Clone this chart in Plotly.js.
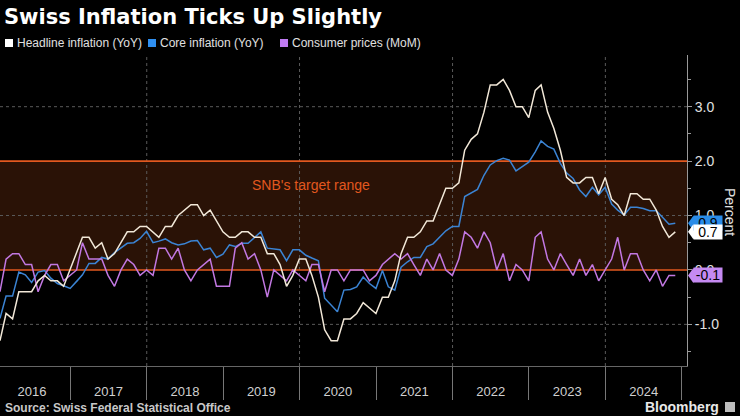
<!DOCTYPE html>
<html>
<head>
<meta charset="utf-8">
<script src="https://cdn.plot.ly/plotly-3.0.1.min.js"></script>
<style>
  html, body { margin: 0; padding: 0; background: #000; }
  #chart { width: 740px; height: 416px; }
</style>
</head>
<body>
<div id="chart"></div>
<script>
// ---- DATA (monthly, Jan 2016 .. Nov 2024) ----
const startYear = 2016;
const startMonth = 1;

const headline = [
  -1.3, -0.8, -0.9, -0.4, -0.4, -0.4, -0.2, -0.1, -0.2, -0.2, -0.3, 0.0,
  0.3, 0.6, 0.6, 0.4, 0.5, 0.2, 0.3, 0.5, 0.7, 0.7, 0.8, 0.8,
  0.7, 0.6, 0.8, 0.8, 1.0, 1.1, 1.2, 1.2, 1.0, 1.1, 0.9, 0.7,
  0.6, 0.6, 0.7, 0.7, 0.6, 0.6, 0.3, 0.3, 0.1, -0.3, -0.1, 0.2,
  0.2, -0.1, -0.5, -1.1, -1.3, -1.3, -0.9, -0.9, -0.8, -0.6, -0.7, -0.8,
  -0.5, -0.5, -0.2, 0.3, 0.6, 0.6, 0.7, 0.9, 0.9, 1.2, 1.5, 1.5,
  1.6, 2.2, 2.4, 2.5, 2.9, 3.4, 3.4, 3.5, 3.3, 3.0, 3.0, 2.8,
  3.3, 3.4, 2.9, 2.6, 2.2, 1.7, 1.6, 1.6, 1.7, 1.7, 1.4, 1.7,
  1.3, 1.2, 1.0, 1.4, 1.4, 1.3, 1.3, 1.1, 0.8, 0.6, 0.7
];

const core = [
  -0.89, -0.48, -0.48, -0.04, -0.09, -0.23, -0.04, -0.01, -0.15, -0.25, -0.29, -0.34,
  -0.21, -0.09, 0.12, 0.12, 0.23, 0.20, 0.32, 0.40, 0.49, 0.50, 0.58, 0.71,
  0.50, 0.53, 0.57, 0.50, 0.46, 0.48, 0.53, 0.54, 0.37, 0.40, 0.23, 0.29,
  0.46, 0.43, 0.49, 0.49, 0.60, 0.70, 0.40, 0.38, 0.37, 0.17, 0.37, 0.37,
  0.27, 0.22, 0.17, -0.52, -0.64, -0.77, -0.37, -0.36, -0.31, -0.13, -0.25, -0.34,
  -0.01, -0.31, -0.37, 0.05, 0.15, 0.23, 0.23, 0.43, 0.48, 0.61, 0.72, 0.80,
  0.80, 1.35, 1.41, 1.48, 1.74, 1.93, 2.01, 2.05, 2.02, 1.82, 1.90, 1.98,
  2.17, 2.37, 2.27, 2.22, 1.96, 1.78, 1.68, 1.47, 1.35, 1.52, 1.38, 1.52,
  1.21, 1.10, 1.01, 1.15, 1.15, 1.13, 1.09, 1.09, 0.97, 0.84, 0.86
];

const mom = [
  -0.4, 0.2, 0.3, 0.3, 0.1, 0.1, -0.4, -0.1, 0.1, 0.1, -0.2, -0.1,
  0.0, 0.5, 0.2, 0.2, 0.2, -0.1, -0.3, 0.0, 0.2, 0.1, -0.1, 0.0,
  -0.1, 0.4, 0.4, 0.2, 0.4, 0.0, -0.2, 0.0, 0.1, 0.2, -0.3, -0.3,
  -0.3, 0.4, 0.5, 0.2, 0.3, 0.0, -0.5, 0.0, -0.1, -0.2, 0.0, -0.1,
  -0.2, 0.1, 0.1, -0.4, 0.0, 0.0, -0.2, 0.0, 0.0, 0.0, -0.2, -0.1,
  0.1, 0.2, 0.3, 0.2, 0.3, 0.1, -0.1, 0.2, 0.0, 0.3, 0.0, -0.1,
  0.2, 0.7, 0.6, 0.4, 0.7, 0.5, 0.0, 0.3, -0.2, 0.1, 0.0, -0.2,
  0.6, 0.7, 0.2, 0.0, 0.3, 0.1, -0.1, 0.2, -0.1, 0.1, -0.2, 0.0,
  0.2, 0.6, 0.0, 0.3, 0.3, 0.0, -0.2, 0.0, -0.3, -0.1, -0.1
];

const seriesNames = ['Headline inflation (YoY)', 'Core inflation (YoY)', 'Consumer prices (MoM)'];
const yTicks = [-1, 0, 1, 2, 3];
const yGridValues = [-1, 1, 3];
const gridYears = [2018, 2020, 2022, 2024];
const targetRange = [0, 2];
const targetLabel = "SNB's target range";
const xRange = ['2016-01-31', '2025-01-25'];
const yRange = [-1.765, 3.95];

// ---- STYLE ----
const lineColors = ['#f2e8d8', '#3b84d4', '#c278e2'];
const squareColors = ['#ffffff', '#2f8ff0', '#c07cf2'];
const tagColors = ['#ffffff', '#2a8ce8', '#c58af2'];
const orange = '#e2581f';
const band = '#2a1206';
const FONT = 'Liberation Sans, Arial, sans-serif';

// month-end dates
function monthEnd(i) {
  const m = startMonth - 1 + i;
  const y = startYear + Math.floor(m / 12);
  const mo = m % 12;
  const last = new Date(Date.UTC(y, mo + 1, 0)).getUTCDate();
  return y + '-' + String(mo + 1).padStart(2, '0') + '-' + String(last).padStart(2, '0');
}
const dates = headline.map((_, i) => monthEnd(i));

const seriesData = [headline, core, mom];
const order = [1, 2, 0];
const traces = order.map(k => ({
  type: 'scatter', mode: 'lines', x: dates, y: seriesData[k], name: seriesNames[k],
  line: { color: lineColors[k], width: 1.5 }, hoverinfo: 'skip', showlegend: false
}));

const plotW = 687, plotTop = 55, plotBottom = 366;
const pxX = px => px / plotW;
const pxY = py => (plotBottom - py) / (plotBottom - plotTop);

const shapes = [];
shapes.push({ type: 'rect', xref: 'paper', yref: 'y', x0: 0, x1: 1, y0: targetRange[0], y1: targetRange[1],
  fillcolor: band, line: { width: 0 }, layer: 'below' });
yGridValues.forEach(v => shapes.push({ type: 'line', xref: 'paper', yref: 'y', x0: 0, x1: 1, y0: v, y1: v,
  line: { color: '#5a5a5a', width: 1, dash: 'dot' }, layer: 'below' }));
gridYears.forEach(yr => shapes.push({ type: 'line', xref: 'x', yref: 'paper', x0: yr + '-01-01', x1: yr + '-01-01', y0: 0, y1: 1,
  line: { color: '#5a5a5a', width: 1, dash: 'dot' }, layer: 'below' }));
targetRange.forEach(v => shapes.push({ type: 'line', xref: 'paper', yref: 'y', x0: 0, x1: 1, y0: v, y1: v,
  line: { color: orange, width: 1.6 }, layer: 'below' }));

const annotations = [];
const legendX = [5, 148, 280];
const legendY = 43;
seriesNames.forEach((nm, k) => {
  shapes.push({ type: 'rect', xref: 'paper', yref: 'paper', xsizemode: 'pixel', ysizemode: 'pixel',
    xanchor: pxX(legendX[k]), yanchor: pxY(legendY), x0: 0, x1: 8, y0: -4, y1: 4,
    fillcolor: squareColors[k], line: { width: 0 } });
  annotations.push({ xref: 'paper', yref: 'paper', x: pxX(legendX[k] + 10), y: pxY(legendY),
    xanchor: 'left', yanchor: 'middle', showarrow: false, text: nm,
    font: { family: FONT, size: 12, color: '#e0e0e0' } });
});

// end-value tags (core first so headline covers it, then mom)
[1, 0, 2].forEach(k => {
  const arr = seriesData[k];
  const v = arr[arr.length - 1];
  shapes.push({ type: 'path', xref: 'paper', yref: 'y', xsizemode: 'pixel', ysizemode: 'pixel',
    xanchor: 1, yanchor: v, path: 'M 1 0 L 6 7 L 7 7 L 7 -7 L 6 -7 Z',
    fillcolor: tagColors[k], line: { width: 0 } });
  annotations.push({ xref: 'paper', yref: 'y', x: 1, y: v, xshift: 6, xanchor: 'left', yanchor: 'middle',
    showarrow: false, text: v.toFixed(1), bgcolor: tagColors[k], borderpad: 0, width: 28, height: 14,
    align: 'center', font: { family: FONT, size: 14, color: '#000' } });
});

annotations.push({ xref: 'paper', yref: 'y', x: pxX(311), y: 1.56, showarrow: false, text: targetLabel,
  xanchor: 'center', yanchor: 'middle', font: { family: FONT, size: 14, color: orange } });
annotations.push({ xref: 'paper', yref: 'paper', x: pxX(730), y: pxY(212), showarrow: false, text: 'Percent',
  textangle: 90, xanchor: 'center', yanchor: 'middle', font: { family: FONT, size: 14, color: '#e0e0e0' } });
annotations.push({ xref: 'paper', yref: 'paper', x: pxX(3), y: pxY(408), showarrow: false,
  text: '<b>Source: Swiss Federal Statistical Office</b>', xanchor: 'left', yanchor: 'middle',
  font: { family: FONT, size: 12, color: '#c8c8c8' } });
annotations.push({ xref: 'paper', yref: 'paper', x: pxX(721), y: pxY(407), showarrow: false,
  text: '<b>Bloomberg</b>', xanchor: 'right', yanchor: 'middle',
  font: { family: FONT, size: 14, color: '#e8e8e8' } });
shapes.push({ type: 'rect', xref: 'paper', yref: 'paper', xsizemode: 'pixel', ysizemode: 'pixel',
  xanchor: pxX(725), yanchor: pxY(407), x0: 0, x1: 10, y0: -5, y1: 5, fillcolor: '#bdbdbd', line: { width: 0 } });

const layout = {
  width: 740, height: 416,
  paper_bgcolor: '#000', plot_bgcolor: '#000',
  margin: { l: 0, r: 740 - plotW, t: plotTop, b: 416 - plotBottom, pad: 0 },
  title: { text: '<b>Swiss Inflation Ticks Up Slightly</b>', x: 4 / 740, xref: 'container', xanchor: 'left',
    y: 1 - 17 / 416, yref: 'container', yanchor: 'middle',
    font: { family: 'DejaVu Sans, sans-serif', size: 21, color: '#ffffff' } },
  showlegend: false,
  xaxis: {
    type: 'date', range: xRange, tick0: '2016-01-01', dtick: 'M12', tickformat: '%Y',
    ticklabelmode: 'period', ticks: 'outside', ticklen: 33, tickwidth: 1, tickcolor: '#777',
    ticklabelstandoff: -20,
    showgrid: false, zeroline: false, showline: true, linecolor: '#666', linewidth: 1,
    tickfont: { family: FONT, size: 13, color: '#d0d0d0' }, fixedrange: true
  },
  yaxis: {
    side: 'right', range: yRange, tickmode: 'array', tickvals: yTicks,
    ticktext: yTicks.map(v => v.toFixed(1)),
    ticks: 'outside', ticklen: 4, tickcolor: '#999', tickwidth: 1,
    minor: { dtick: 0.5, tick0: 0, ticks: 'outside', ticklen: 3, tickcolor: '#999', showgrid: false },
    showgrid: false, zeroline: false, showline: true, linecolor: '#999', linewidth: 1,
    tickfont: { family: FONT, size: 14, color: '#e0e0e0' }, fixedrange: true
  },
  shapes: shapes,
  annotations: annotations
};

Plotly.newPlot('chart', traces, layout, { staticPlot: true, displayModeBar: false });
</script>
</body>
</html>
